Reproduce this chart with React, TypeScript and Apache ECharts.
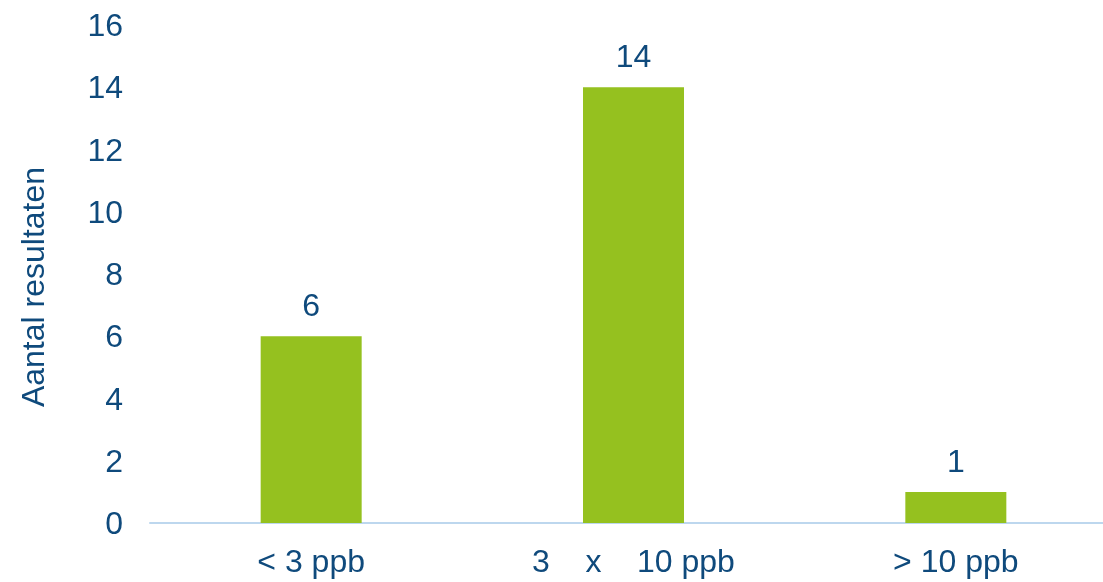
import React, { useEffect, useRef } from "react";
import * as echarts from "echarts";

const categories = ["< 3 ppb", "3    x    10 ppb", "> 10 ppb"];
const values = [6, 14, 1];
const yTicks = { min: 0, max: 16, interval: 2 };
const yAxisTitle = "Aantal resultaten";

export default function App() {
  const ref = useRef<HTMLDivElement>(null);
  useEffect(() => {
    if (!ref.current) return;
    const chart = echarts.init(ref.current, null, { renderer: "svg" });
    const textColor = "#0F4A7C";
    const font = "Liberation Sans, Arial, sans-serif";
    const fs = 32;
    chart.setOption({
      animation: false,
      grid: { left: 150, top: 25, right: 0, bottom: 59, containLabel: false },
      graphic: [
        {
          type: "text",
          x: 33,
          y: 287,
          rotation: Math.PI / 2,
          style: {
            text: yAxisTitle,
            fill: textColor,
            fontSize: fs,
            fontFamily: font,
            textAlign: "center",
            textVerticalAlign: "middle",
          },
        },
      ],
      xAxis: {
        type: "category",
        data: categories,
        axisLine: { show: true, lineStyle: { color: "#BDD7EE", width: 2 } },
        axisTick: { show: false },
        axisLabel: { color: textColor, fontSize: fs, fontFamily: font, margin: 22 },
      },
      yAxis: {
        type: "value",
        min: yTicks.min,
        max: yTicks.max,
        interval: yTicks.interval,
        axisLine: { show: false },
        axisTick: { show: false },
        splitLine: { show: false },
        axisLabel: { color: textColor, fontSize: fs, fontFamily: font, margin: 27 },
      },
      series: [
        {
          type: "bar",
          data: values,
          barWidth: 101,
          itemStyle: { color: "#95C11F" },
          label: {
            show: true,
            position: "top",
            distance: 15,
            color: textColor,
            fontSize: fs,
            fontFamily: font,
          },
        },
      ],
    });
    return () => chart.dispose();
  }, []);
  return (
    <div
      style={{
        position: "fixed",
        left: 0,
        top: 0,
        width: 1103,
        height: 582,
        overflow: "hidden",
      }}
    >
      <div ref={ref} style={{ width: 1117, height: 582 }} />
    </div>
  );
}
